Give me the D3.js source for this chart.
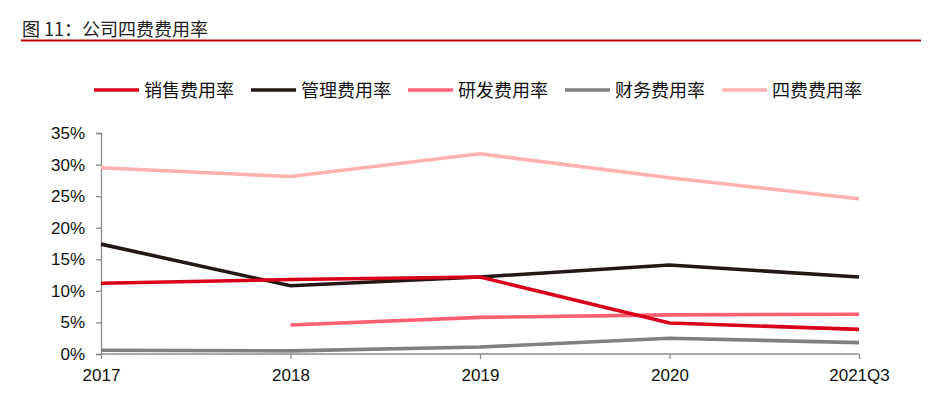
<!DOCTYPE html>
<html>
<head>
<meta charset="utf-8">
<script src="https://cdn.jsdelivr.net/npm/d3@7"></script>
<style>
  html,body{margin:0;padding:0;background:#fff;}
  svg{display:block;font-family:"Liberation Sans","Noto Sans CJK SC",Arial,sans-serif;}
</style>
</head>
<body>
<svg id="chart" width="932" height="394"></svg>
<script>
// ── data ──
const TITLE = "图 11：公司四费费用率";
const YEARS = ["2017","2018","2019","2020","2021Q3"];
const SERIES = ["销售费用率","管理费用率","研发费用率","财务费用率","四费费用率"];
const COLORS = ["#d9001b","#231815","#ff5f73","#808080","#ffb0b0"];
const sales   = [11.2, 11.8, 12.2, 4.9, 3.9];
const admin   = [17.4, 10.8, 12.2, 14.1, 12.2];
const rnd     = [null, 4.6, 5.8, 6.2, 6.3];
const finance = [0.6, 0.5, 1.1, 2.5, 1.8];
const total   = [29.5, 28.1, 31.7, 27.9, 24.6];
const VALUES = [sales, admin, rnd, finance, total];
const Y_TICKS = [0,5,10,15,20,25,30,35];

const svg = d3.select("#chart");
const M = {l:101, r:73, t:133, b:40};
const W = 932, H = 394;

// ── title + rule ──
svg.append("text").attr("x",22).attr("y",36).attr("font-size",18).attr("fill","#222")
  .attr("font-family","'Noto Sans CJK SC',sans-serif").text(TITLE);
svg.append("line").attr("x1",21).attr("x2",921).attr("y1",40.5).attr("y2",40.5)
  .attr("stroke","#c00000").attr("stroke-width",2);

// ── scales ──
const x = d3.scalePoint().domain(YEARS).range([M.l, W-M.r]);
const y = d3.scaleLinear().domain([0,35]).range([H-M.b, M.t]);

// ── axes ──
const yAx = svg.append("g").attr("transform",`translate(${M.l},0)`)
  .call(d3.axisLeft(y).tickValues(Y_TICKS).tickFormat(d=>d+"%").tickSize(5).tickPadding(11));
const xAx = svg.append("g").attr("transform",`translate(0,${H-M.b})`)
  .call(d3.axisBottom(x).tickSize(5).tickPadding(10));
[yAx,xAx].forEach(g=>{
  g.selectAll("path,line").attr("stroke","#8c8c8c").attr("stroke-width",1.3);
  g.selectAll("text").attr("font-size",17).attr("fill","#111")
    .attr("font-family","'Liberation Sans',Arial,sans-serif");
});
xAx.select(".domain").attr("d",`M${M.l},0H${W-M.r}`);

// ── lines ──
const line = d3.line().defined(d=>d.v!=null).x(d=>x(d.k)).y(d=>y(d.v));
// draw order: light ones underneath
[4,3,2,1,0].forEach(i=>{
  svg.append("path")
    .datum(YEARS.map((k,j)=>({k, v:VALUES[i][j]})))
    .attr("d",line).attr("fill","none")
    .attr("stroke",COLORS[i]).attr("stroke-width",3.6)
    .attr("stroke-linejoin","miter");
});

// ── legend ──
const LEG_X = [94, 251, 408, 565, 722];
const lg = svg.append("g").attr("transform","translate(0,90)");
SERIES.forEach((s,i)=>{
  const g = lg.append("g").attr("transform",`translate(${LEG_X[i]},0)`);
  g.append("line").attr("x1",0).attr("x2",45).attr("y1",0).attr("y2",0)
    .attr("stroke",COLORS[i]).attr("stroke-width",3.6);
  g.append("text").attr("x",50).attr("y",6.5).attr("font-size",18).attr("fill","#111")
    .attr("font-family","'Noto Sans CJK SC',sans-serif").text(s);
});
</script>
</body>
</html>
